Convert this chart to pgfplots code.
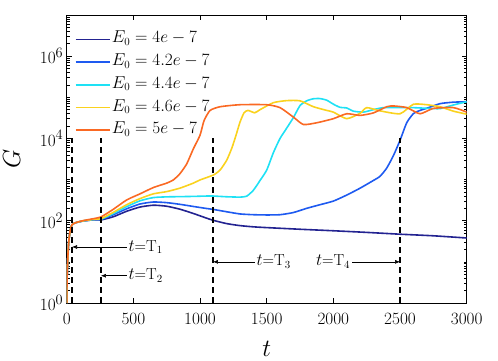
\documentclass[border=0pt]{standalone}
\usepackage{pgfplots}
\pgfplotsset{compat=1.18}
\usetikzlibrary{arrows.meta}
\definecolor{cA}{RGB}{35,35,145}
\definecolor{cB}{RGB}{30,90,240}
\definecolor{cC}{RGB}{30,225,245}
\definecolor{cD}{RGB}{250,210,30}
\definecolor{cE}{RGB}{250,105,35}
\begin{document}
\begin{tikzpicture}
\begin{axis}[
  scale only axis, width=400bp, height=288bp,
  ymode=log, xmin=0, xmax=3000, ymin=1, ymax=1e7,
  xtick={0,500,1000,1500,2000,2500,3000},
  /pgf/number format/set thousands separator={},
  ytick={1,100,10000,1000000},
  yticklabels={$10^{0}$,$10^{2}$,$10^{4}$,$10^{6}$},
  minor ytick={2,3,4,5,6,7,8,9,10,20,30,40,50,60,70,80,90,200,300,400,500,600,700,800,900,1000,2000,3000,4000,5000,6000,7000,8000,9000,20000,30000,40000,50000,60000,70000,80000,90000,100000,200000,300000,400000,500000,600000,700000,800000,900000,2000000,3000000,4000000,5000000,6000000,7000000,8000000,9000000},
  tick align=inside, major tick length=5bp, minor tick length=3bp,
  axis line style={line width=0.9bp}, every tick/.style={line width=0.6bp, black},
  tick label style={font=\fontsize{19}{22}\selectfont},
  xticklabel style={yshift=-7bp},
  legend cell align=left,
  legend style={at={(rel axis cs:0,1)}, anchor=north west, xshift=8bp, yshift=-15.3bp,
    draw=none, fill=none, inner sep=0pt, row sep=4.7bp,
    font=\fontsize{16}{18}\selectfont,
    nodes={inner sep=1.5bp, text height=11bp, text depth=4bp}},
  legend image code/.code={\draw[#1] (0bp,0bp) -- (34bp,0bp);},
  every axis plot/.append style={line width=1.6bp},
]
\addplot[cA, line width=1.6bp, smooth, tension=0.35] coordinates {(0,1)(3,4)(8,12)(15,30)(25,55)(40,80)(70,90)(120,98)(200,105)(260,105)(350,125)(450,170)(550,215)(650,238)(750,225)(850,190)(950,150)(1050,115)(1100,102)(1200,85)(1300,76)(1400,71)(1500,68)(1750,62)(2000,57)(2250,52)(2500,47)(2750,43)(3000,38)};
\addlegendentry{$E_0 = 4e-7$}
\addplot[cB, line width=1.6bp, smooth, tension=0.35] coordinates {(0,1)(3,4)(8,12)(15,30)(25,55)(40,80)(70,90)(120,98)(200,106)(260,108)(350,140)(450,195)(550,255)(650,285)(750,275)(850,250)(950,222)(1050,198)(1100,188)(1200,165)(1300,146)(1400,140)(1500,138)(1600,140)(1700,158)(1800,200)(1900,245)(2000,300)(2100,420)(2200,617)(2300,950)(2350,1200)(2400,1900)(2450,3800)(2500,9000)(2550,24000)(2600,40000)(2650,48000)(2700,54000)(2800,70000)(2900,76000)(3000,78000)};
\addlegendentry{$E_0 = 4.2e-7$}
\addplot[cC, line width=1.6bp, smooth, tension=0.35] coordinates {(0,1)(3,4)(8,12)(15,30)(25,55)(40,80)(70,90)(120,98)(200,107)(260,110)(350,150)(450,220)(550,305)(650,365)(750,380)(850,385)(950,390)(1050,398)(1100,398)(1200,382)(1300,375)(1350,395)(1400,550)(1450,950)(1500,1700)(1550,4500)(1600,10000)(1650,17800)(1700,32000)(1750,63000)(1800,82000)(1850,92000)(1900,93000)(1950,85000)(2000,68000)(2050,57000)(2100,55000)(2150,46000)(2225,43600)(2300,50000)(2375,56000)(2500,56000)(2600,56000)(2700,54000)(2800,53000)(2900,65000)(3000,78000)};
\addlegendentry{$E_0 = 4.4e-7$}
\addplot[cD, line width=1.6bp, smooth, tension=0.35] coordinates {(0,1)(3,4)(8,12)(15,30)(25,55)(40,80)(70,90)(120,99)(200,108)(260,113)(350,160)(450,245)(550,345)(650,450)(750,510)(850,620)(950,820)(1000,980)(1100,1290)(1150,1700)(1200,2950)(1240,6000)(1270,12000)(1300,25000)(1330,42000)(1360,48000)(1410,42000)(1450,50000)(1550,74000)(1650,83000)(1750,82000)(1850,59000)(1950,48000)(2000,43600)(2100,30200)(2200,40700)(2250,56000)(2350,46800)(2500,39800)(2600,67600)(2700,66000)(2800,58900)(2900,46000)(3000,38900)};
\addlegendentry{$E_0 = 4.6e-7$}
\addplot[cE, line width=1.6bp, smooth, tension=0.35] coordinates {(0,1)(3,4)(8,12)(15,30)(25,55)(40,80)(70,90)(120,100)(200,112)(260,125)(350,190)(450,320)(550,450)(650,640)(750,820)(800,980)(850,1400)(900,2400)(950,5600)(1000,12000)(1030,27000)(1075,47800)(1150,58900)(1300,66000)(1500,66000)(1600,56000)(1700,33000)(1775,21800)(1875,24000)(2000,30200)(2100,39800)(2200,36300)(2300,41700)(2400,58900)(2450,61600)(2550,56200)(2650,39800)(2750,53700)(2900,56200)(3000,43600)};
\addlegendentry{$E_0 = 5e-7$}
% dashed markers
\addplot[black, line width=1.5bp, dash pattern=on 6bp off 4bp, forget plot] coordinates {(40,1)(40,10000)};
\addplot[black, line width=1.5bp, dash pattern=on 6bp off 4bp, forget plot] coordinates {(257,1)(257,10000)};
\addplot[black, line width=1.5bp, dash pattern=on 6bp off 4bp, forget plot] coordinates {(1097,1)(1097,10000)};
\addplot[black, line width=1.5bp, dash pattern=on 6bp off 4bp, forget plot] coordinates {(2500,1)(2500,10000)};
% arrows
\addplot[black, line width=0.6bp, -{Latex[length=5bp,width=4bp]}, forget plot] coordinates {(450,23)(40,23)};
\addplot[black, line width=0.6bp, -{Latex[length=5bp,width=4bp]}, forget plot] coordinates {(450,4.6)(257,4.6)};
\addplot[black, line width=0.6bp, -{Latex[length=5bp,width=4bp]}, forget plot] coordinates {(1410,10)(1097,10)};
\addplot[black, line width=0.6bp, -{Latex[length=5bp,width=4bp]}, forget plot] coordinates {(2140,10)(2500,10)};
\node[anchor=west, inner sep=1bp, font=\fontsize{16}{18}\selectfont] at (axis cs:455,23) {$t$=T$_1$};
\node[anchor=west, inner sep=1bp, font=\fontsize{16}{18}\selectfont] at (axis cs:455,4.6) {$t$=T$_2$};
\node[anchor=west, inner sep=1bp, font=\fontsize{16}{18}\selectfont] at (axis cs:1415,10) {$t$=T$_3$};
\node[anchor=east, inner sep=1bp, font=\fontsize{16}{18}\selectfont] at (axis cs:2135,10) {$t$=T$_4$};
\coordinate (bl) at (rel axis cs:0,0);
\coordinate (tr) at (rel axis cs:1,1);
\coordinate (lm) at (rel axis cs:0,0.5);
\coordinate (bm) at (rel axis cs:0.5,0);
\end{axis}
\node[anchor=base, inner sep=0pt, font=\fontsize{27}{30}\selectfont] at ([yshift=-53bp]bm) {$t$};
\node[anchor=base, rotate=90, inner sep=0pt, font=\fontsize{26}{30}\selectfont] at ([xshift=-46.7bp]lm) {$G$};
\pgfresetboundingbox
\path[use as bounding box] ([xshift=-66.7bp,yshift=-58bp]bl) rectangle ([xshift=31.3bp,yshift=15bp]tr);
\end{tikzpicture}
\end{document}
